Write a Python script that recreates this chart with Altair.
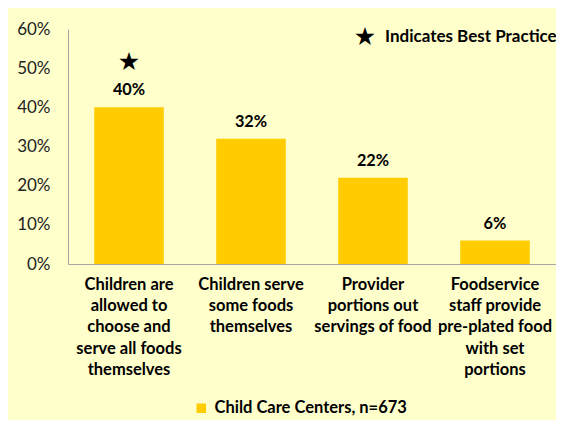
import altair as alt
import pandas as pd

categories = [
    "Children are|allowed to|choose and|serve all foods|themselves",
    "Children serve|some foods|themselves",
    "Provider|portions out|servings of food",
    "Foodservice|staff provide|pre-plated food|with set|portions",
]
values = [0.40, 0.32, 0.22, 0.06]
value_labels = ["40%", "32%", "22%", "6%"]
best_practice = [True, False, False, False]
series_name = "Child Care Centers, n=673"
note_text = "Indicates Best Practice"
y_ticks = [0, 0.1, 0.2, 0.3, 0.4, 0.5, 0.6]

df = pd.DataFrame({
    "cat": categories,
    "val": values,
    "lab": value_labels,
    "best": best_practice,
    "series": [series_name] * len(categories),
})

FONT = "Lato"

x = alt.X(
    "cat:N", sort=categories, title=None,
    scale=alt.Scale(paddingInner=0.43, paddingOuter=0.215),
    axis=alt.Axis(
        labelExpr="split(datum.value, '|')", labelAngle=0, labelFont=FONT,
        labelFontWeight="bold", labelFontSize=16.5, labelColor="black",
        labelLineHeight=21.4, labelPadding=12, ticks=False,
        domainColor="#a6a6a6", labelLimit=250, labelBaseline="top",
    ),
)
y = alt.Y(
    "val:Q", title=None,
    scale=alt.Scale(domain=[0, 0.6]),
    axis=alt.Axis(
        values=y_ticks, format=".0%", grid=False, ticks=False,
        domainColor="#a6a6a6", labelFont=FONT, labelFontSize=17,
        labelColor="#222222", labelPadding=18,
    ),
)

base = alt.Chart(df)

bars = base.mark_bar().encode(
    x=x, y=y,
    color=alt.Color(
        "series:N", scale=alt.Scale(range=["#FFCC00"]),
        legend=alt.Legend(
            orient="none", legendX=125, legendY=371, title=None,
            symbolType="square", symbolSize=90, symbolStrokeWidth=0,
            labelFont=FONT, labelFontWeight="bold", labelFontSize=16.5,
            labelColor="black", labelLimit=400, labelOffset=5,
        ),
    ),
)

labels = base.mark_text(
    dy=-17, font=FONT, fontWeight="bold", fontSize=16.3, color="black"
).encode(x=x, y=y, text="lab:N")

stars = base.transform_filter("datum.best").mark_text(
    dy=-45, font="DejaVu Sans", fontSize=25, color="black", text="★"
).encode(x=x, y=y)

note_df = pd.DataFrame({"t": [note_text]})
note_star = alt.Chart(note_df).mark_text(
    font="DejaVu Sans", fontSize=25, color="black", text="★", align="center"
).encode(x=alt.value(297), y=alt.value(8))
note = alt.Chart(note_df).mark_text(
    font=FONT, fontWeight="bold", fontSize=17, color="black", align="left"
).encode(x=alt.value(317), y=alt.value(8), text="t:N")

chart = alt.layer(bars, labels, stars, note_star, note).properties(
    width=488, height=235,
    padding={"left": 60, "top": 21, "right": 0, "bottom": 156},
    autosize="none",
    background="#FFFFCC",
).configure_view(stroke=None)

chart.save("out.html", embed_options={"renderer": "svg", "actions": False})
